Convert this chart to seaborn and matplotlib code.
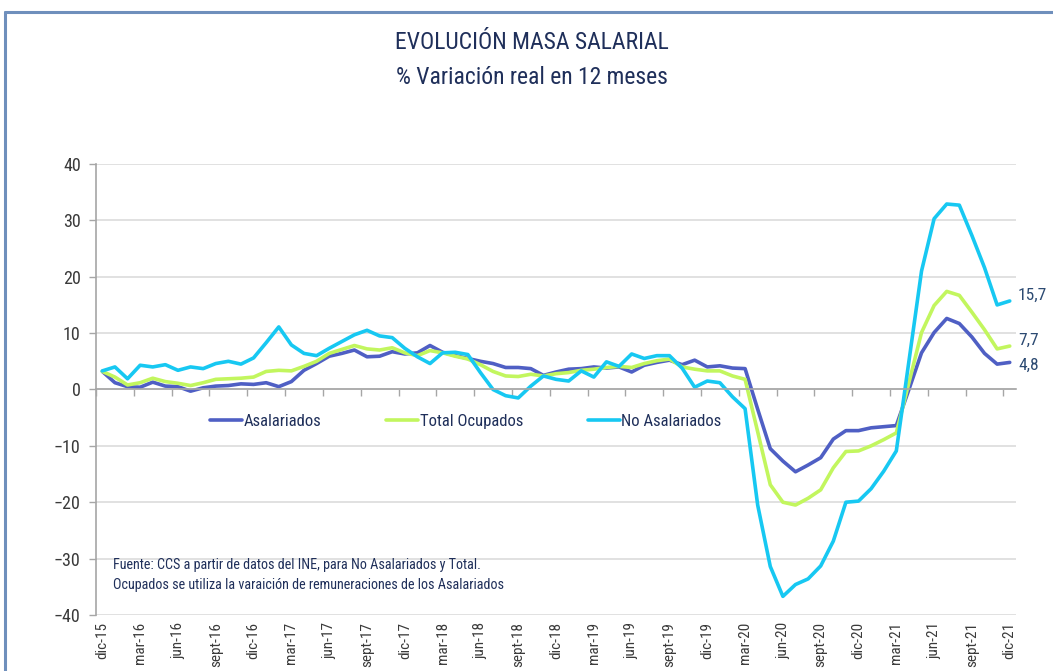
import numpy as np
import pandas as pd
import matplotlib
matplotlib.use("Agg")
import matplotlib.pyplot as plt
from matplotlib import font_manager as fm
from matplotlib.lines import Line2D
import seaborn as sns

# ---------------- data ----------------
month_abbr = ["ene", "feb", "mar", "abr", "may", "jun", "jul", "ago", "sept", "oct", "nov", "dic"]
years = [15, 16, 17, 18, 19, 20, 21]
categories = ["dic-15"] + [f"{m}-{y}" for y in years[1:] for m in month_abbr]

asalariados = [3.2, 1.2, 0.5, 0.4, 1.3, 0.6, 0.5, -0.3, 0.3, 0.6, 0.7, 1.0,
               0.9, 1.2, 0.5, 1.4, 3.4, 4.6, 5.9, 6.4, 7.0, 5.8, 5.9, 6.7,
               6.3, 6.5, 7.8, 6.6, 6.0, 5.5, 5.0, 4.6, 3.9, 3.9, 3.7, 2.5,
               3.1, 3.6, 3.7, 4.0, 3.8, 4.0, 3.1, 4.3, 4.8, 5.2, 4.4, 5.2,
               4.0, 4.2, 3.8, 3.7, -3.5, -10.5, -12.7, -14.6, -13.4, -12.1, -8.8, -7.3,
               -7.3, -6.8, -6.6, -6.4, 0.0, 6.5, 10.1, 12.6, 11.7, 9.3, 6.4, 4.5,
               4.8]
total_ocupados = [3.2, 2.2, 0.8, 1.2, 2.0, 1.4, 1.1, 0.7, 1.2, 1.8, 1.9, 2.0,
                  2.2, 3.2, 3.4, 3.3, 4.1, 5.0, 6.4, 7.1, 7.8, 7.2, 7.0, 7.4,
                  6.5, 6.0, 6.9, 6.5, 5.9, 5.4, 4.4, 3.2, 2.4, 2.3, 2.7, 2.4,
                  2.8, 3.0, 3.4, 3.6, 3.9, 4.1, 3.9, 4.6, 5.1, 5.4, 4.0, 3.6,
                  3.3, 3.3, 2.4, 1.8, -7.5, -16.9, -20.0, -20.5, -19.3, -17.8, -13.9, -11.0,
                  -10.9, -10.0, -8.9, -7.7, 1.2, 10.1, 14.9, 17.4, 16.7, 13.7, 10.6, 7.2,
                  7.7]
no_asalariados = [3.3, 4.0, 1.9, 4.3, 4.0, 4.4, 3.4, 4.0, 3.7, 4.6, 5.0, 4.5,
                  5.6, 8.3, 11.1, 7.9, 6.4, 6.0, 7.3, 8.5, 9.7, 10.5, 9.5, 9.2,
                  7.3, 5.8, 4.6, 6.5, 6.6, 6.2, 3.0, 0.0, -1.1, -1.5, 0.6, 2.4,
                  1.8, 1.5, 3.3, 2.2, 4.9, 4.1, 6.3, 5.5, 6.0, 6.0, 3.8, 0.4,
                  1.5, 1.2, -1.3, -3.4, -20.5, -31.4, -36.7, -34.6, -33.6, -31.3, -26.9, -20.0,
                  -19.8, -17.6, -14.5, -10.9, 5.0, 21.0, 30.3, 32.9, 32.7, 27.3, 21.6, 15.0,
                  15.7]

series_names = ["Asalariados", "Total Ocupados", "No Asalariados"]
series_colors = ["#4f5fc4", "#c2f65e", "#17c8f2"]
end_labels = ["4,8", "7,7", "15,7"]
end_label_dy = [-2, 4, 4]
tick_labels = categories[::3]

title = "EVOLUCIÓN MASA SALARIAL"
subtitle = "% Variación real en 12 meses"
source = ("Fuente: CCS a partir de datos del INE, para No Asalariados y Total.\n"
          "Ocupados se utiliza la varaición de remuneraciones de los Asalariados")

# ---------------- fonts ----------------
names = {f.name for f in fm.fontManager.ttflist}
cond = next((n for n in ["Liberation Sans Narrow", "Roboto Condensed",
                         "Open Sans Condensed", "DejaVu Sans"] if n in names), "DejaVu Sans")
stretch = "condensed" if cond == "DejaVu Sans" else "normal"

sns.set_theme(style="white")
plt.rcParams["font.family"] = [cond, "DejaVu Sans"]
plt.rcParams["font.stretch"] = stretch

navy = "#1f2f5a"
axis_grey = "#a6a6a6"
grid_grey = "#dcdcdc"

# ---------------- data frame ----------------
x = np.arange(len(categories))
df = pd.concat([
    pd.DataFrame({"x": x, "valor": vals, "serie": name})
    for name, vals in zip(series_names, [asalariados, total_ocupados, no_asalariados])
], ignore_index=True)

fig = plt.figure(figsize=(10.53, 6.71), dpi=100)
ax = fig.add_axes([0.0912, 0.0835, 0.8737, 0.6721])

sns.lineplot(data=df, x="x", y="valor", hue="serie", hue_order=series_names,
             palette=dict(zip(series_names, series_colors)), linewidth=2.6,
             ax=ax, legend=False)

ax.set_xlim(-0.5, len(categories) - 0.5)
ax.set_ylim(-40, 40)
ax.set_xlabel("")
ax.set_ylabel("")

# y axis
ax.set_yticks(np.arange(-40, 41, 10))
ax.yaxis.grid(True, color=grid_grey, linewidth=1.2)
ax.tick_params(axis="y", which="major", length=5, width=1, color=axis_grey,
               direction="out", labelsize=13, labelcolor="#3a3a3a", pad=6, left=True)
for s in ["top", "right"]:
    ax.spines[s].set_visible(False)
ax.spines["left"].set_color(axis_grey)
ax.spines["left"].set_linewidth(1.2)

# x axis line at zero with category tick marks
ax.spines["bottom"].set_position(("data", 0))
ax.spines["bottom"].set_color(axis_grey)
ax.spines["bottom"].set_linewidth(1.2)
ax.set_xticks([])
ax.set_xticks(np.arange(-0.5, len(categories), 3), minor=True)
ax.tick_params(axis="x", which="minor", length=5, width=1, color=axis_grey,
               direction="out", bottom=True, labelbottom=False)
ax.tick_params(axis="x", which="major", labelbottom=False, length=0)

sec = ax.secondary_xaxis(0)
sec.set_xticks(x[::3], tick_labels)
sec.tick_params(axis="x", length=0, labelsize=11, labelcolor="#3a3a3a",
                rotation=90, pad=5)
sec.spines["bottom"].set_visible(False)

# end labels
for vals, lab, dy in zip([asalariados, total_ocupados, no_asalariados], end_labels, end_label_dy):
    ax.annotate(lab, xy=(x[-1], vals[-1]), xytext=(6, dy), textcoords="offset points",
                ha="left", va="center", fontsize=12.5, color="#2c4a72",
                annotation_clip=False)

# legend
handles = [Line2D([0], [0], color=c, linewidth=2.6) for c in series_colors]
leg = ax.legend(handles, series_names, loc="center", bbox_to_anchor=(0.402, 0.43),
                ncol=3, frameon=False, fontsize=12, handlelength=1.9,
                handletextpad=0.1, columnspacing=3.9, labelcolor=navy)

# source note
ax.text(0.018, 0.052, source, transform=ax.transAxes, ha="left", va="bottom",
        fontsize=10.2, color=navy, linespacing=1.5)

# titles
fig.text(0.505, 0.937, title, ha="center", va="center", fontsize=17, color=navy)
fig.text(0.505, 0.884, subtitle, ha="center", va="center", fontsize=17, color=navy)

# frame border (top + left visible)
frame_col = "#6f8fbc"
fig.add_artist(Line2D([5 / 1053, 1.0], [1 - 12 / 671, 1 - 12 / 671],
                      transform=fig.transFigure, color=frame_col, linewidth=2.2))
fig.add_artist(Line2D([5 / 1053, 5 / 1053], [0.0, 1 - 12 / 671],
                      transform=fig.transFigure, color=frame_col, linewidth=2.2))

fig.savefig("out.png", dpi=100, facecolor="white")
